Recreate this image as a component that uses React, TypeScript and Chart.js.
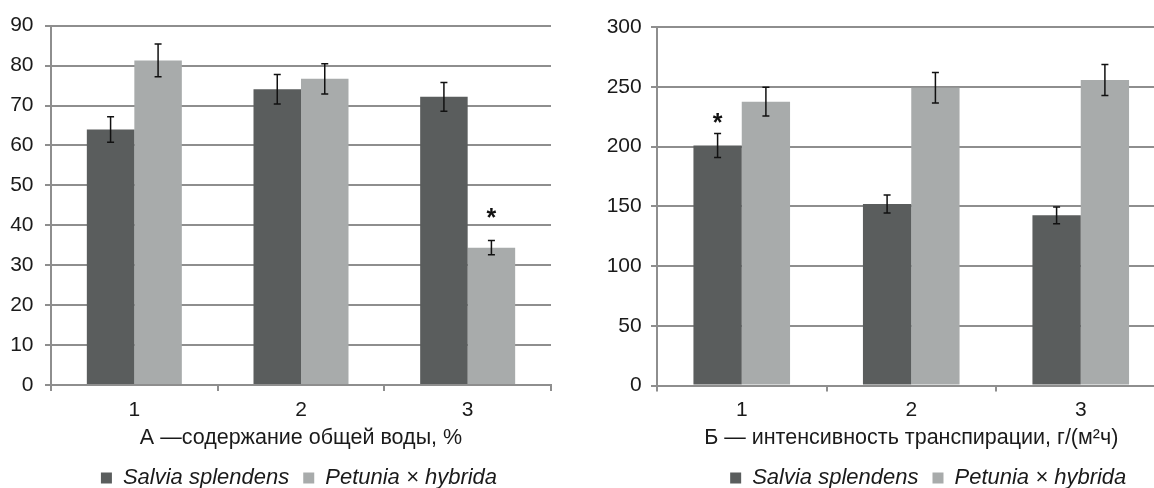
import { useEffect, useRef } from "react";
import { Chart, registerables } from "chart.js";

Chart.register(...registerables);

// ---------- data ----------
const categories = ["1", "2", "3"];
const seriesNames = ["Salvia splendens", "Petunia × hybrida"];

// A — total water content, %
const waterSalvia = [64.0, 74.1, 72.2];
const waterPetunia = [81.3, 76.7, 34.4];
const waterSalviaErr = [3.2, 3.7, 3.6];
const waterPetuniaErr = [4.1, 3.8, 1.8];
const waterSalviaStar: (number | null)[] = [null, null, null];
const waterPetuniaStar: (number | null)[] = [null, null, 43.4];
const waterMax = 90;
const waterStep = 10;
const waterTitle = "А —содержание общей воды, %";

// Б — transpiration intensity, g/(m²h)
const transSalvia = [201.0, 152.0, 142.5];
const transPetunia = [237.7, 249.4, 255.9];
const transSalviaErr = [10.0, 7.5, 7.0];
const transPetuniaErr = [12.0, 12.7, 13.0];
const transSalviaStar: (number | null)[] = [225, null, null];
const transPetuniaStar: (number | null)[] = [null, null, null];
const transMax = 300;
const transStep = 50;
const transTitle = "Б — интенсивность транспирации, г/(м²ч)";

// ---------- styles ----------
const FONT = '"Liberation Sans", Arial, sans-serif';
const DARK = "#5a5d5d";
const LIGHT = "#a8abab";
const GRID = "#8e8e8e";
const TEXT = "#1a1a1a";

const errorBarPlugin = {
  id: "errorBars",
  afterLayout(chart: any) {
    const shift = chart.options.plugins?.errorBars?.legendShift || 0;
    if (chart.legend && shift) {
      chart.legend.left += shift;
      chart.legend.right += shift;
    }
  },
  afterDatasetsDraw(chart: any) {
    const { ctx } = chart;
    const yScale = chart.scales.y;
    chart.data.datasets.forEach((ds: any, di: number) => {
      const meta = chart.getDatasetMeta(di);
      meta.data.forEach((bar: any, i: number) => {
        const v = ds.data[i];
        const e = ds.errors[i];
        const x = bar.x;
        const yTop = yScale.getPixelForValue(v + e);
        const yBot = yScale.getPixelForValue(v - e);
        ctx.save();
        ctx.strokeStyle = "#111111";
        ctx.lineWidth = 1.5;
        ctx.beginPath();
        ctx.moveTo(x, yTop);
        ctx.lineTo(x, yBot);
        ctx.moveTo(x - 3.5, yTop);
        ctx.lineTo(x + 3.5, yTop);
        ctx.moveTo(x - 3.5, yBot);
        ctx.lineTo(x + 3.5, yBot);
        ctx.stroke();
        const s = ds.stars[i];
        if (s !== null && s !== undefined) {
          const fs = 25;
          ctx.font = `bold ${fs}px ${FONT}`;
          ctx.fillStyle = "#111111";
          ctx.textAlign = "center";
          ctx.textBaseline = "alphabetic";
          ctx.fillText("*", x, yScale.getPixelForValue(s) + fs * 0.57);
        }
        ctx.restore();
      });
    });
  },
};

function makeConfig(
  salvia: number[],
  petunia: number[],
  salviaErr: number[],
  petuniaErr: number[],
  salviaStar: (number | null)[],
  petuniaStar: (number | null)[],
  max: number,
  step: number,
  title: string,
  yWidth: number,
  yPad: number,
  padTop: number,
  padRight: number,
  xHeight: number,
  legendShift: number
): any {
  return {
    type: "bar",
    data: {
      labels: categories,
      datasets: [
        {
          label: seriesNames[0],
          data: salvia,
          errors: salviaErr,
          stars: salviaStar,
          backgroundColor: DARK,
          borderWidth: 0,
          categoryPercentage: 0.57,
          barPercentage: 1.0,
        },
        {
          label: seriesNames[1],
          data: petunia,
          errors: petuniaErr,
          stars: petuniaStar,
          backgroundColor: LIGHT,
          borderWidth: 0,
          categoryPercentage: 0.57,
          barPercentage: 1.0,
        },
      ],
    },
    options: {
      animation: false,
      responsive: true,
      maintainAspectRatio: false,
      layout: { padding: { top: padTop, right: padRight, left: 0, bottom: -11 } },
      plugins: {
        tooltip: { enabled: false },
        errorBars: { legendShift },
        legend: {
          position: "bottom",
          fullSize: false,
          labels: {
            boxWidth: 11,
            boxHeight: 11,
            padding: 14,
            color: TEXT,
            font: { family: FONT, size: 22, style: "italic" },
          },
        },
      },
      scales: {
        x: {
          afterFit: (s: any) => {
            s.height = xHeight;
          },
          grid: {
            drawOnChartArea: false,
            drawTicks: true,
            tickLength: 6,
            color: GRID,
            lineWidth: 2,
          },
          border: { display: true, color: GRID, width: 2 },
          ticks: { color: TEXT, padding: 6.5, font: { family: FONT, size: 21 } },
          title: {
            display: true,
            text: title,
            color: TEXT,
            font: { family: FONT, size: 21.5 },
            padding: { top: 0, bottom: 2.2 },
          },
        },
        y: {
          min: 0,
          max: max,
          afterFit: (s: any) => {
            s.width = yWidth;
          },
          grid: { color: GRID, lineWidth: 2, tickLength: 6, drawTicks: true },
          border: { display: true, color: GRID, width: 2 },
          ticks: {
            stepSize: step,
            color: TEXT,
            padding: yPad,
            font: { family: FONT, size: 21 },
          },
        },
      },
    },
    plugins: [errorBarPlugin],
  };
}

export default function App() {
  const leftRef = useRef<HTMLCanvasElement | null>(null);
  const rightRef = useRef<HTMLCanvasElement | null>(null);

  useEffect(() => {
    if (!leftRef.current || !rightRef.current) return;
    const left = new Chart(
      leftRef.current,
      makeConfig(
        waterSalvia,
        waterPetunia,
        waterSalviaErr,
        waterPetuniaErr,
        waterSalviaStar,
        waterPetuniaStar,
        waterMax,
        waterStep,
        waterTitle,
        51,
        11.5,
        25.7,
        7,
        68,
        -2
      )
    );
    const right = new Chart(
      rightRef.current,
      makeConfig(
        transSalvia,
        transPetunia,
        transSalviaErr,
        transPetuniaErr,
        transSalviaStar,
        transPetuniaStar,
        transMax,
        transStep,
        transTitle,
        77,
        9.3,
        27.3,
        4.5,
        67.5,
        17
      )
    );
    return () => {
      left.destroy();
      right.destroy();
    };
  }, []);

  return (
    <div
      style={{
        position: "fixed",
        left: 0,
        top: 0,
        width: 1154,
        height: 488,
        overflow: "hidden",
        background: "#ffffff",
      }}
    >
      <div style={{ position: "absolute", left: 0, top: 0, width: 558, height: 488 }}>
        <canvas ref={leftRef} />
      </div>
      <div style={{ position: "absolute", left: 580, top: 0, width: 590, height: 488 }}>
        <canvas ref={rightRef} />
      </div>
    </div>
  );
}
